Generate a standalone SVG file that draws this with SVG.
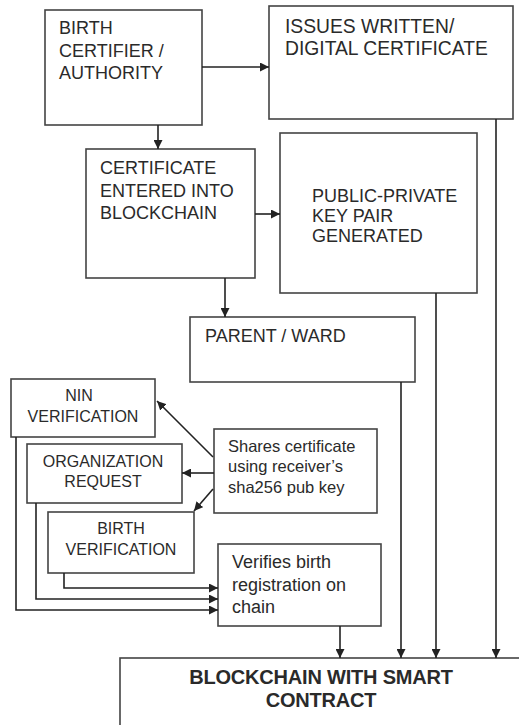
<svg xmlns="http://www.w3.org/2000/svg" width="519" height="725" viewBox="0 0 519 725">
<defs>
<style>
.box{fill:#fff;stroke:#444;stroke-width:1.6}
.t{font-family:"Liberation Sans",Arial,sans-serif;fill:#2a2a2a}
.c{stroke:#222;stroke-width:1.6;fill:none}
.big{font-size:18px}
.xl{font-size:19.3px}
.sm{font-size:16px}
.b{font-weight:bold;font-size:20px}
</style>
<marker id="ah" viewBox="0 0 10 10" refX="10" refY="5" markerWidth="9" markerHeight="9" markerUnits="userSpaceOnUse" orient="auto">
<path d="M0,0 L10,5 L0,10 z" fill="#222"/>
</marker>
</defs>
<rect width="519" height="725" fill="#fff"/>
<g id="birth-certifier">
<rect class="box" x="45" y="10" width="157" height="115"/>
<text class="t big" x="59" y="34">BIRTH</text>
<text class="t big" x="59" y="57">CERTIFIER /</text>
<text class="t big" x="59" y="79">AUTHORITY</text>
</g>
<g id="issues-certificate">
<rect class="box" x="269" y="6" width="244" height="113"/>
<text class="t xl" x="285" y="33">ISSUES WRITTEN/</text>
<text class="t xl" x="285" y="55">DIGITAL CERTIFICATE</text>
</g>
<g id="certificate-entered">
<rect class="box" x="86" y="149" width="169" height="129"/>
<text class="t big" x="100" y="174">CERTIFICATE</text>
<text class="t big" x="100" y="197">ENTERED INTO</text>
<text class="t big" x="100" y="219">BLOCKCHAIN</text>
</g>
<g id="key-pair">
<rect class="box" x="280" y="133" width="197" height="160"/>
<text class="t big" x="312" y="202">PUBLIC-PRIVATE</text>
<text class="t big" x="312" y="222">KEY PAIR</text>
<text class="t big" x="312" y="242">GENERATED</text>
</g>
<g id="parent-ward">
<rect class="box" x="190" y="317" width="225" height="65"/>
<text class="t big" x="205" y="342">PARENT / WARD</text>
</g>
<g id="nin-verification">
<rect class="box" x="11" y="379" width="144" height="58"/>
<text class="t sm" x="79" y="401" text-anchor="middle">NIN</text>
<text class="t sm" x="83" y="422" text-anchor="middle">VERIFICATION</text>
</g>
<g id="organization-request">
<rect class="box" x="27" y="444" width="155" height="59"/>
<text class="t sm" x="103" y="467" text-anchor="middle">ORGANIZATION</text>
<text class="t sm" x="103" y="487" text-anchor="middle">REQUEST</text>
</g>
<g id="shares-certificate">
<rect class="box" x="214" y="429" width="163" height="84"/>
<text class="t" font-size="16.5" x="228" y="452">Shares certificate</text>
<text class="t" font-size="16.5" x="228" y="472">using receiver’s</text>
<text class="t" font-size="16.5" x="228" y="493">sha256 pub key</text>
</g>
<g id="birth-verification">
<rect class="box" x="48" y="512" width="146" height="61"/>
<text class="t sm" x="121" y="534" text-anchor="middle">BIRTH</text>
<text class="t sm" x="121" y="555" text-anchor="middle">VERIFICATION</text>
</g>
<g id="verifies-birth">
<rect class="box" x="218" y="544" width="163" height="82"/>
<text class="t big" x="232" y="568">Verifies birth</text>
<text class="t big" x="232" y="591">registration on</text>
<text class="t big" x="232" y="613">chain</text>
</g>
<g id="blockchain-smart-contract">
<rect class="box" x="120" y="658" width="410" height="80"/>
<text class="t b" x="321" y="684" text-anchor="middle" letter-spacing="-0.2">BLOCKCHAIN WITH SMART</text>
<text class="t b" x="321" y="707" text-anchor="middle" letter-spacing="-0.2">CONTRACT</text>
</g>
<g id="connectors">
<line class="c" x1="202" y1="67" x2="269" y2="67" marker-end="url(#ah)"/>
<line class="c" x1="158" y1="125" x2="158" y2="149" marker-end="url(#ah)"/>
<line class="c" x1="255" y1="214" x2="280" y2="214" marker-end="url(#ah)"/>
<line class="c" x1="225" y1="278" x2="225" y2="317" marker-end="url(#ah)"/>
<line class="c" x1="213" y1="457" x2="157" y2="401" marker-end="url(#ah)"/>
<line class="c" x1="214" y1="473" x2="182" y2="473" marker-end="url(#ah)"/>
<line class="c" x1="213" y1="489" x2="194" y2="511" marker-end="url(#ah)"/>
<polyline class="c" points="64,573 64,588 218,588" marker-end="url(#ah)"/>
<polyline class="c" points="36,503 36,599 218,599" marker-end="url(#ah)"/>
<polyline class="c" points="16,437 16,610 218,610" marker-end="url(#ah)"/>
<line class="c" x1="340" y1="626" x2="340" y2="658" marker-end="url(#ah)"/>
<line class="c" x1="401" y1="382" x2="401" y2="658" marker-end="url(#ah)"/>
<line class="c" x1="436" y1="293" x2="436" y2="658" marker-end="url(#ah)"/>
<line class="c" x1="496" y1="119" x2="496" y2="658" marker-end="url(#ah)"/>
</g>
</svg>
